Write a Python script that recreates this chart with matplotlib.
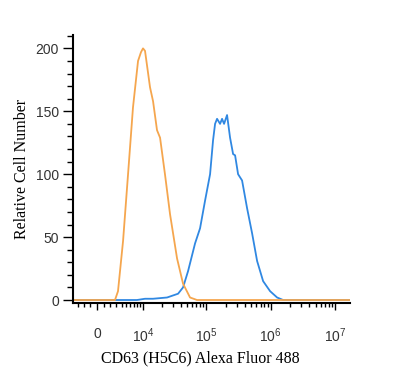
import matplotlib
matplotlib.use("Agg")
from matplotlib import pyplot as plt
from matplotlib.ticker import MultipleLocator
import numpy as np

# Isotype control (orange)
iso_x = [-3870, 2760, 3300, 4300, 5420, 6700, 8230, 9250, 10000, 10800, 13050,
         14600, 16900, 18900, 22600, 27200, 35000, 43400, 55800, 71700, 1.71e7]
iso_y = [0, 0, 7, 47, 100, 153, 190, 197, 200, 198, 169,
         158, 135, 129, 100, 68, 33, 13, 2, 0, 0]

# CD63 (H5C6) stained (blue)
cd63_x = [-3870, 7880, 10800, 14600, 24400, 36300, 43400, 52000, 66800, 79900,
          95600, 114400, 127300, 136800, 146900, 163600, 175700, 188700, 210100,
          234000, 260700, 280000, 311700, 359600, 430000, 514800, 615800,
          763500, 980700, 1259600, 1562000, 1.71e7]
cd63_y = [0, 0, 1, 1, 2, 5, 10, 23, 45, 57,
          79, 100, 127, 140, 144, 140, 144, 140, 147,
          129, 116, 115, 100, 95, 73, 53, 31,
          15, 7, 2, 0, 0]

x_ticks = [0, 1e4, 1e5, 1e6, 1e7]
x_ticklabels = ["0", "$10^4$", "$10^5$", "$10^6$", "$10^7$"]

plt.rcParams["mathtext.fontset"] = "custom"
plt.rcParams["mathtext.rm"] = "Liberation Sans"
plt.rcParams["mathtext.it"] = "Liberation Sans"

fig = plt.figure(figsize=(4, 3.78), dpi=100)
ax = fig.add_axes([0.1825, 0.198, 0.6925, 0.709])

ax.plot(cd63_x, cd63_y, color="#3088e2", lw=1.3)
ax.plot(iso_x, iso_y, color="#f5a64e", lw=1.3)

ax.set_xscale("asinh", linear_width=4000)
ax.set_xlim(-3870, 1.71e7)
ax.set_ylim(-2.5, 210.5)

ax.set_xticks(x_ticks)
ax.set_xticklabels(x_ticklabels, family="Liberation Sans", fontsize=10, color="#333333")
minor = [-3000, -2000, -1000, 1000]
for dec in [1e3, 1e4, 1e5, 1e6, 1e7]:
    for k in range(2, 10):
        if k * dec < 1.7e7:
            minor.append(k * dec)
ax.set_xticks(minor, minor=True)

ax.set_yticks([0, 50, 100, 150, 200])
ax.yaxis.set_minor_locator(MultipleLocator(10))
for lab in ax.get_yticklabels():
    lab.set_family("Liberation Sans")
    lab.set_fontsize(10)
    lab.set_color("#333333")

ax.tick_params(axis="x", which="major", direction="out", length=5, width=1, pad=12)
ax.tick_params(axis="x", which="minor", direction="out", length=3, width=1)
ax.tick_params(axis="y", which="major", direction="out", length=7, width=1, pad=3)
ax.tick_params(axis="y", which="minor", direction="out", length=4, width=1)

for s in ["top", "right"]:
    ax.spines[s].set_visible(False)
ax.spines["left"].set_linewidth(1.5)
ax.spines["bottom"].set_linewidth(1.5)

ax.set_xlabel("CD63 (H5C6) Alexa Fluor 488", family="Liberation Serif", fontsize=11.5)
ax.xaxis.set_label_coords(0.458, -0.175)
ax.set_ylabel("Relative Cell Number", family="Liberation Serif", fontsize=11.5, labelpad=4)

plt.savefig("out.png", dpi=100)
